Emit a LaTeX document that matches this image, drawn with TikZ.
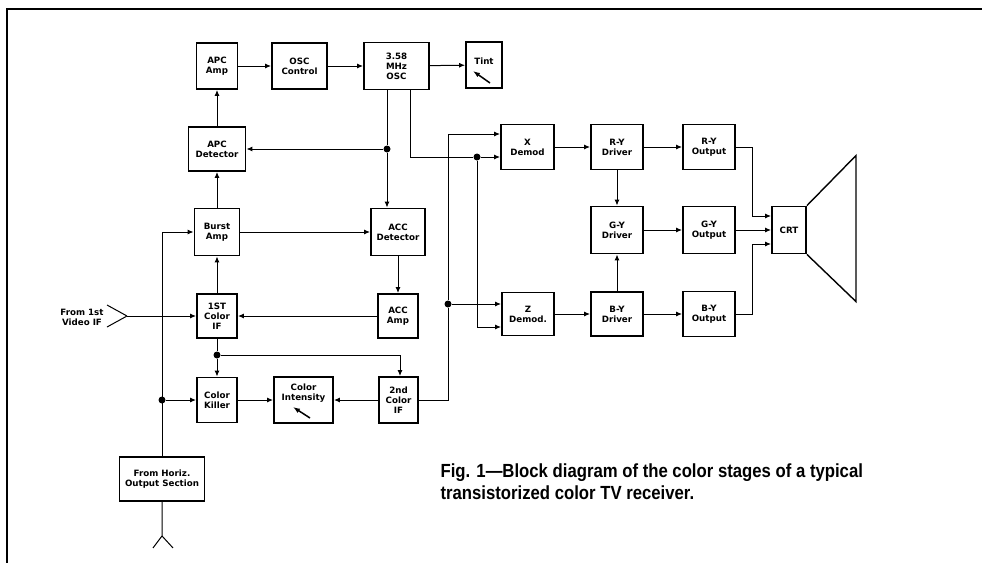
\documentclass[tikz,border=0pt]{standalone}
\usepackage{fontspec}
\setmainfont{DejaVu Sans}
\newfontfamily\capfont[FakeStretch=0.88]{Liberation Sans}
\usepackage{tikz}
\usetikzlibrary{arrows.meta, positioning, calc}

\begin{document}
\begin{tikzpicture}[
    x=1pt, y=-1pt,
    block/.style={rectangle, draw, line width=1.9pt, minimum width=40pt, minimum height=45pt, inner sep=1pt, align=center, font=\bfseries\fontsize{8.7}{10}\selectfont},
    lbl/.style={align=center, font=\bfseries\fontsize{8.7}{10}\selectfont},
    wire/.style={line width=1pt},
    sig/.style={wire, -{Latex[length=6pt,width=5pt]}},
    knob/.style={line width=1.5pt, -{Latex[length=7pt,width=5pt]}},
    junc/.style={circle, fill, inner sep=0pt, minimum size=7pt},
    frame/.style={line width=1.4pt}
]
\useasboundingbox (0,0) rectangle (982,563);

% Frame
\draw[frame] (982,9) -- (7,9) -- (7,563);

% Blocks
\node[block, minimum width=41pt, minimum height=46pt] (apcamp) at (217,66) {APC\\Amp};
\node[block, minimum width=55pt, minimum height=46pt] (osccontrol) at (299.5,66) {OSC\\Control};
\node[block, minimum width=65pt, minimum height=47pt] (osc) at (396.5,66) {3.58\\MHz\\OSC};
\node[block, minimum width=36pt, minimum height=46pt] (tint) at (484,65) {};
\node[lbl] (tintlbl) at (484,61) {Tint};

\node[block, minimum width=57pt, minimum height=44pt] (apcdet) at (217,149) {APC\\Detector};
\node[block, minimum width=45pt, minimum height=47pt] (burstamp) at (217,232) {Burst\\Amp};
\node[block, minimum width=54pt, minimum height=47pt] (accdet) at (398,232) {ACC\\Detector};
\node[block, minimum height=44pt] (firstif) at (217,316) {1ST\\Color\\IF};
\node[block, minimum height=44pt] (accamp) at (398,316) {ACC\\Amp};
\node[block] (killer) at (217,400) {Color\\Killer};
\node[block, minimum width=59pt, minimum height=46pt] (intensity) at (303.5,400) {};
\node[lbl] (intensitylbl) at (303.5,393) {Color\\Intensity};
\node[block, minimum width=39pt, minimum height=46pt] (secondif) at (398.5,400) {2nd\\Color\\IF};
\node[block, minimum width=85pt, minimum height=44pt] (horiz) at (162,479) {From Horiz.\\Output Section};

\node[block, minimum width=53pt] (xdemod) at (527.5,147) {X\\Demod};
\node[block, minimum width=52pt] (rydrv) at (617,147) {R-Y\\Driver};
\node[block, minimum width=52pt] (ryout) at (709,147) {R-Y\\Output};
\node[block, minimum width=52pt, minimum height=47pt] (gydrv) at (617,230) {G-Y\\Driver};
\node[block, minimum width=52pt, minimum height=47pt] (gyout) at (709,230) {G-Y\\Output};
\node[block, minimum width=52pt, minimum height=43pt] (zdemod) at (528,314) {Z\\Demod.};
\node[block, minimum width=52pt, minimum height=44pt] (bydrv) at (617,314) {B-Y\\Driver};
\node[block, minimum width=52pt] (byout) at (709,314) {B-Y\\Output};
\node[block, minimum width=34pt, minimum height=47pt] (crt) at (789,230) {CRT};

\node[lbl] (videolbl) at (82,317) {From 1st\\Video IF};

% Junctions
\node[junc] (oscjunc) at (387,149) {};
\node[junc] (demodjunc) at (477,157) {};
\node[junc] (ifjunc) at (217,355) {};
\node[junc] (horizjunc) at (162,400) {};
\node[junc] (chromajunc) at (448,304) {};

% Oscillator loop
\draw[sig] (apcamp) -- (osccontrol);
\draw[sig] (osccontrol) -- (osc);
\draw[sig] (osc) -- (tint);
\draw[sig] (apcdet) -- (apcamp);
\draw[sig] (burstamp) -- (apcdet);
\draw[wire] (osc.south -| oscjunc) -- (oscjunc);
\draw[sig] (oscjunc) -- (apcdet);
\draw[sig] (oscjunc) -- (oscjunc |- accdet.north);
\draw[wire] ([xshift=13.5pt]osc.south) |- (demodjunc);
\draw[knob] ($(tint.center)+(6,18)$) -- ++(-17,-12);

% Chroma path
\coordinate (videoin) at (127,316);
\draw[wire] (videoin) -- ++(-20,-11) (videoin) -- ++(-20,11);
\draw[sig] (videoin) -- (firstif.west);
\draw[sig] (firstif) -- (burstamp);
\draw[sig] (burstamp) -- (accdet);
\draw[sig] (accdet) -- (accamp);
\draw[sig] (accamp.west) -- (firstif.east |- accamp.west);
\draw[wire] (firstif) -- (ifjunc);
\draw[sig] (ifjunc) -- (killer);
\draw[sig] (ifjunc) -| ([xshift=1.5pt]secondif.north);
\draw[sig] (killer) -- (intensity);
\draw[sig] (secondif) -- (intensity);
\draw[knob] ($(intensity.center)+(6.5,18)$) -- ++(-17,-11);

% Horizontal pulses
\draw[sig] (horiz.north) |- (burstamp.west);
\draw[sig] (horizjunc) -- (killer);
\draw[wire] (horiz.south) -- ++(0,34) coordinate (horizin) -- ++(-9,12);
\draw[wire] (horizin) -- ++(11,12);

% Demodulators
\draw[sig] (secondif.east) -| (chromajunc) |- ([yshift=13pt]xdemod.west);
\draw[sig] (chromajunc) -- (chromajunc -| zdemod.west);
\draw[sig] (demodjunc) -- (demodjunc -| xdemod.west);
\draw[sig] (demodjunc) |- ([yshift=-13pt]zdemod.west);

% Matrix and outputs
\draw[sig] (xdemod) -- (rydrv);
\draw[sig] (rydrv) -- (ryout);
\draw[sig] (rydrv) -- (gydrv);
\draw[sig] (bydrv) -- (gydrv);
\draw[sig] (gydrv) -- (gyout);
\draw[sig] (zdemod) -- (bydrv);
\draw[sig] (bydrv) -- (byout);
\draw[sig] (ryout.east) -- ++(17,0) |- ([yshift=14pt]crt.west);
\draw[sig] (gyout) -- (crt);
\draw[sig] (byout.east) -- ++(17,0) |- ([yshift=-14pt]crt.west);
\draw[line width=1.4pt] (crt.north east) -- ++(49,-50) -- ++(0,146) -- (crt.south east);

% Caption
\node[anchor=west, align=left, font=\capfont\bfseries\fontsize{19}{22}\selectfont] (caption) at (437,482)
    {Fig. 1—Block diagram of the color stages of a typical\\transistorized color TV receiver.};

\end{tikzpicture}
\end{document}
